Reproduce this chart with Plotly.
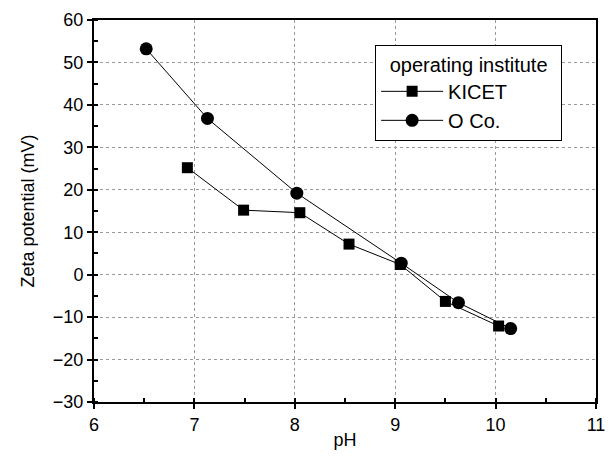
import plotly.graph_objects as go

kicet_ph = [6.93, 7.49, 8.05, 8.54, 9.05, 9.50, 10.03]
kicet_zeta = [25.2, 15.2, 14.6, 7.2, 2.4, -6.3, -12.1]
oco_ph = [6.52, 7.13, 8.02, 9.06, 9.63, 10.15]
oco_zeta = [53.2, 36.8, 19.2, 2.7, -6.6, -12.7]

x_ticks = [6, 7, 8, 9, 10, 11]
y_ticks = [-30, -20, -10, 0, 10, 20, 30, 40, 50, 60]

FONT = "Liberation Sans"

fig = go.Figure()
fig.add_trace(go.Scatter(x=kicet_ph, y=kicet_zeta, mode="lines+markers", name="KICET",
                         line=dict(color="black", width=1),
                         marker=dict(symbol="square", size=11, color="black")))
fig.add_trace(go.Scatter(x=oco_ph, y=oco_zeta, mode="lines+markers", name="O Co.",
                         line=dict(color="black", width=1),
                         marker=dict(symbol="circle", size=13, color="black")))

axis_common = dict(showline=True, linecolor="black", linewidth=2, mirror=True,
                   ticks="outside", ticklen=5, tickwidth=1.5, tickcolor="black",
                   showgrid=True, gridcolor="#999999", griddash="dot", gridwidth=1,
                   zeroline=False, tickfont=dict(family=FONT, size=18, color="black"),
                   title_font=dict(family=FONT, size=18, color="black"))

fig.update_xaxes(range=[6, 11], tickvals=x_ticks, title_text="pH", title_standoff=0,
                 minor=dict(ticks="inside", ticklen=4, tickcolor="black", dtick=0.5, showgrid=False),
                 **axis_common)
fig.update_yaxes(range=[-30, 60], tickvals=y_ticks, title_text="Zeta potential (mV)", title_standoff=14,
                 minor=dict(ticks="inside", ticklen=4, tickcolor="black", dtick=5, showgrid=False),
                 **axis_common)

fig.update_layout(
    width=615, height=457,
    margin=dict(l=94, r=10, t=15, b=55),
    plot_bgcolor="white", paper_bgcolor="white",
    font=dict(family=FONT, size=18, color="black"),
    legend=dict(x=0.56, y=0.935, xanchor="left", yanchor="top",
                bordercolor="black", borderwidth=1, bgcolor="white",
                title=dict(text="  operating institute  ", font=dict(size=20), side="top center"),
                font=dict(size=20), itemwidth=62, tracegroupgap=0),
    showlegend=True,
)

fig.write_html("out.html")
